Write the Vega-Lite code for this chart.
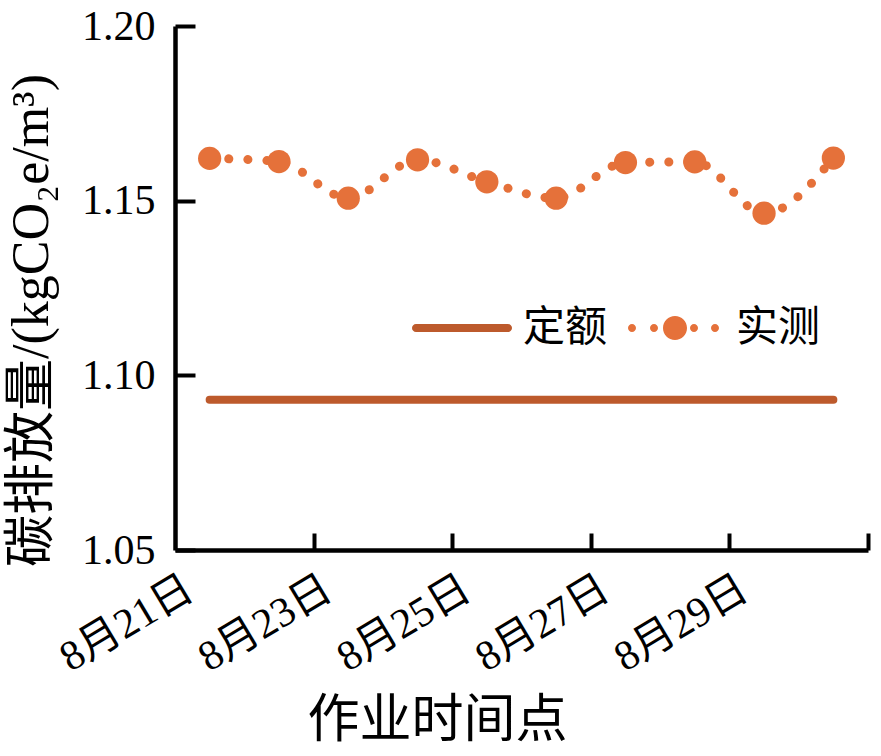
{
  "$schema": "https://vega.github.io/schema/vega-lite/v6.json",
  "width": 693,
  "height": 524,
  "autosize": {"type": "none"},
  "padding": {"left": 175, "top": 26, "right": 13, "bottom": 206},
  "background": "white",
  "config": {
    "view": {"stroke": null},
    "font": "Liberation Serif, DejaVu Serif, Noto Sans CJK SC",
    "axis": {
      "domainColor": "black",
      "domainWidth": 4.5,
      "tickColor": "black",
      "tickWidth": 4,
      "grid": false,
      "labelColor": "black",
      "titleColor": "black",
      "labelFont": "Liberation Serif, DejaVu Serif, Noto Sans CJK SC",
      "titleFont": "Liberation Serif, DejaVu Serif, Noto Sans CJK SC",
      "titleFontWeight": "normal"
    },
    "legend": {
      "labelFont": "Liberation Serif, Noto Sans CJK SC"
    }
  },
  "data": {
    "values": [
      {"day": "8月21日", "series": "实测", "value": 1.1621},
      {"day": "8月22日", "series": "实测", "value": 1.1612},
      {"day": "8月23日", "series": "实测", "value": 1.1507},
      {"day": "8月24日", "series": "实测", "value": 1.1617},
      {"day": "8月25日", "series": "实测", "value": 1.1554},
      {"day": "8月26日", "series": "实测", "value": 1.1507},
      {"day": "8月27日", "series": "实测", "value": 1.1609},
      {"day": "8月28日", "series": "实测", "value": 1.1611},
      {"day": "8月29日", "series": "实测", "value": 1.1464},
      {"day": "8月30日", "series": "实测", "value": 1.1622},
      {"day": "8月21日", "series": "定额", "value": 1.093},
      {"day": "8月22日", "series": "定额", "value": 1.093},
      {"day": "8月23日", "series": "定额", "value": 1.093},
      {"day": "8月24日", "series": "定额", "value": 1.093},
      {"day": "8月25日", "series": "定额", "value": 1.093},
      {"day": "8月26日", "series": "定额", "value": 1.093},
      {"day": "8月27日", "series": "定额", "value": 1.093},
      {"day": "8月28日", "series": "定额", "value": 1.093},
      {"day": "8月29日", "series": "定额", "value": 1.093},
      {"day": "8月30日", "series": "定额", "value": 1.093}
    ]
  },
  "encoding": {
    "x": {
      "field": "day",
      "type": "ordinal",
      "sort": null,
      "scale": {"type": "point", "padding": 0.5},
      "axis": {
        "title": "作业时间点",
        "titleFontSize": 52,
        "titleX": 262,
        "titleY": 170,
        "titleAlign": "center",
        "titleBaseline": "middle",
        "titleAngle": 0,
        "labelFontSize": 42,
        "labelAngle": -31,
        "labelAlign": "right",
        "labelBaseline": "middle",
        "labelPadding": 52,
        "labelOffset": -55,
        "labelOverlap": false,
        "labelExpr": "indexof(['8月21日','8月23日','8月25日','8月27日','8月29日'], datum.value) >= 0 ? datum.value : ''",
        "tickOffset": 34.65,
        "tickSize": -17,
        "tickOpacity": {"condition": {"test": "indexof(['8月22日','8月24日','8月26日','8月28日','8月30日'], datum.value) >= 0", "value": 1}, "value": 0}
      }
    },
    "y": {
      "field": "value",
      "type": "quantitative",
      "scale": {"domain": [1.05, 1.2], "zero": false, "nice": false},
      "axis": {
        "title": "碳排放量/(kgCO₂e/m³)",
        "titleFontSize": 52,
        "titleAngle": -90,
        "titleX": -144,
        "titleY": 294,
        "titleAlign": "center",
        "titleBaseline": "middle",
        "values": [1.05, 1.1, 1.15, 1.2],
        "format": ".2f",
        "labelFontSize": 42,
        "labelPadding": 40,
        "tickSize": -20
      }
    },
    "color": {
      "field": "series",
      "type": "nominal",
      "scale": {"domain": ["定额", "实测"], "range": ["#BD5A2C", "#E5713A"]},
      "legend": {
        "title": null,
        "orient": "none",
        "legendX": 237,
        "legendY": 252,
        "direction": "horizontal",
        "columns": 2,
        "columnPadding": 17,
        "padding": 0,
        "labelFontSize": 42,
        "labelColor": "black",
        "labelOffset": 11,
        "symbolSize": 10000,
        "encode": {
          "symbols": {
            "update": {
              "shape": {"signal": "datum.value === '定额' ? 'M-0.92,-0.08L0.92,-0.08A0.08,0.08 0 0 1 0.92,0.08L-0.92,0.08A0.08,0.08 0 0 1 -0.92,-0.08Z' : 'M-0.94,0A0.08,0.08 0 1 0 -0.78,0A0.08,0.08 0 1 0 -0.94,0ZM-0.5,0A0.08,0.08 0 1 0 -0.34,0A0.08,0.08 0 1 0 -0.5,0ZM-0.24,0A0.24,0.24 0 1 0 0.24,0A0.24,0.24 0 1 0 -0.24,0ZM0.3,0A0.08,0.08 0 1 0 0.46,0A0.08,0.08 0 1 0 0.3,0ZM0.72,0A0.08,0.08 0 1 0 0.88,0A0.08,0.08 0 1 0 0.72,0Z'"},
              "fill": {"scale": "color", "field": "value"},
              "fillOpacity": {"value": 1},
              "strokeWidth": {"value": 0}
            }
          }
        }
      }
    }
  },
  "layer": [
    {
      "transform": [{"filter": "datum.series === '定额'"}],
      "mark": {"type": "line", "strokeWidth": 8, "strokeCap": "round"}
    },
    {
      "transform": [{"filter": "datum.series === '实测'"}],
      "mark": {"type": "line", "strokeWidth": 9, "strokeCap": "round", "strokeDash": [0.1, 19], "interpolate": "monotone"}
    },
    {
      "transform": [{"filter": "datum.series === '实测'"}],
      "mark": {"type": "point", "filled": true, "size": 540, "opacity": 1, "shape": "circle"}
    }
  ]
}
